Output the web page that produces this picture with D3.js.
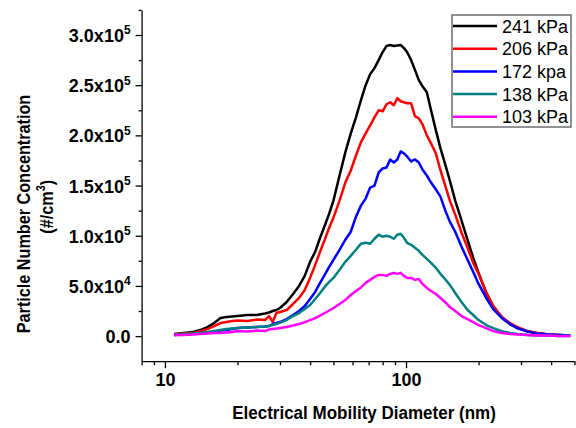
<!DOCTYPE html>
<html>
<head>
<meta charset="utf-8">
<script src="https://cdn.jsdelivr.net/npm/d3@7"></script>
<style>
  body { margin: 0; background: #fff; }
  svg { display: block; font-family: "Liberation Sans", Arial, sans-serif; }
</style>
</head>
<body>
<svg id="chart" width="576" height="428"></svg>
<script>
// electrical mobility diameter (nm)
const diameters = [10.9,12,13,14,15,16,17,18,19,20, 22,24,26,27,28,29,30, 32,34,36,38,40,
    42,44,46,48,50, 53,56,59,62,65, 68,71,74,77,80, 83,86,89,92,95, 98,101,105,109,113,
    117,122,127,133,139, 145,152,160,170,180, 190,200,215,230,250, 270,290,320,350,390, 430,480];

// particle number concentration, in thousands of #/cm3
const p241 = [2,3,4,6,9,13,18,19,19.5,20, 21,21,22.5,23.5,25,26,28, 34,42,50,60,74,
    84,98,110,122,135, 160,183,202,218,235, 250,261,267,275,283, 289,290,289,289.5,290,
    287,283,275,265,255, 249,243,225,205,187, 172,155,135,115,96, 78,63,43,30,18, 12,8,4.5,3,1.5, 1,0.5];
const p206 = [1.5,2.5,3,5,7,10,13,14,15,15.5, 15,16.5,16,20,14,23,24, 26,32,38,46,58,
    71,84,96,108,118, 135,153,165,180,193, 202,210,218,225,224, 231,233,230,237,234,
    233,232,232,219,217, 211,200,192,182,165, 151,135,121,103,88, 73,62,44,30,19, 13,9,5,3,1.5, 1,0.5];
const p172 = [1,1.5,2,3,3.5,4,5.5,6,7,8, 8.5,9,9.5,10,12,13,14, 17,21,25,30,37,
    44,53,61,69,76, 86,96,104,119,130, 137,148,150,163,167, 168,176,173,176,184,
    182,179,174,176,173, 166,160,153,146,139, 126,114,104,89,76, 64,52,38,27,18, 12,8,4.5,2.5,1.5, 1,0.5];
const p138 = [1,2,2.5,3,4,5,6,7,7.5,8, 8.5,9,9.5,10,11,12,13.5, 16,20,23,27,31,
    37,43,49,54,58, 66,74,80,86,92, 93,92,97,101,99, 100,99,97,101,102,
    98,93,91,88,85, 81,77,73,68,62, 57,51,43,34,26, 21,16,11,8,5, 3,2,1,0.5,0.5, 0,0];
const p103 = [1,1,1.5,2,2.5,3,3,3.5,4,5, 4.5,5.5,5,6.5,7,7.5,8, 9,10.5,12,14,16,
    18,20.5,23,25.5,28, 32,36,41,45,48.5, 53,56,59,61,61, 60,62,63,62,63,
    60,58,58,56,57, 52,48,45,42,38, 34,29,25,20,17, 14,11,8,5,3, 2,1.5,1,0.5,0.5, 0,0];

const seriesNames = ["241 kPa", "206 kPa", "172 kpa", "138 kPa", "103 kPa"];
const seriesValues = [p241, p206, p172, p138, p103];
const seriesColors = ["#000000", "#ff0000", "#0000ff", "#008080", "#ff00ff"];

const yMajor = [0, 50000, 100000, 150000, 200000, 250000, 300000];
const yMinor = [25000, 75000, 125000, 175000, 225000, 275000, 325000];
const xMajor = [10, 100];
const xMinor = [8, 9, 20, 30, 40, 50, 60, 70, 80, 90, 200, 300, 400, 500];

const svg = d3.select("#chart");
svg.append("rect").attr("width", 576).attr("height", 428).attr("fill", "#fff");

const x = d3.scaleLog().domain([8, 500]).range([141.6, 574.5]);
const y = d3.scaleLinear().domain([-25000, 325000]).range([361.2, 9.9]);

// minor ticks
svg.append("g")
    .attr("transform", "translate(0," + y(-25000) + ")")
    .call(d3.axisBottom(x).tickValues(xMinor).tickSize(4).tickSizeOuter(0).tickFormat(""))
    .call(g => g.select(".domain").remove());
svg.append("g")
    .attr("transform", "translate(" + x(8) + ",0)")
    .call(d3.axisLeft(y).tickValues(yMinor).tickSize(3).tickSizeOuter(0).tickFormat(""))
    .call(g => g.select(".domain").remove());

// x axis
const xAxis = svg.append("g")
    .attr("transform", "translate(0," + y(-25000) + ")")
    .call(d3.axisBottom(x).tickValues(xMajor).tickSize(7).tickSizeOuter(0).tickFormat(d3.format("d")));
xAxis.selectAll("text")
    .attr("font-size", 18).attr("font-weight", "bold").attr("font-family", "Liberation Sans, Arial")
    .attr("fill", "#000").attr("y", 12);

// y axis
const yAxis = svg.append("g")
    .attr("transform", "translate(" + x(8) + ",0)")
    .call(d3.axisLeft(y).tickValues(yMajor).tickSize(6).tickSizeOuter(0).tickFormat(""));
yAxis.selectAll(".tick").each(function(v) {
    const t = d3.select(this).append("text")
        .attr("x", -11).attr("y", 6.5)
        .attr("text-anchor", "end")
        .attr("fill", "#000")
        .attr("font-size", 18).attr("font-weight", "bold").attr("font-family", "Liberation Sans, Arial");
    if (v === 0) {
        t.text("0.0");
    } else {
        const e = Math.floor(Math.log10(v));
        t.append("tspan").text((v / Math.pow(10, e)).toFixed(1) + "x10");
        t.append("tspan").attr("font-size", 12).attr("dy", -7.5).text(e);
    }
});

svg.selectAll(".domain, .tick line").attr("stroke", "#000").attr("stroke-width", 1.3);

// axis titles (glyphs a bit taller than wide, as in the original export)
svg.append("text")
    .attr("transform", "translate(364,419) scale(0.93,1)")
    .attr("text-anchor", "middle")
    .attr("font-size", 18.3).attr("font-weight", "bold")
    .text("Electrical Mobility Diameter (nm)");

const yTitle = svg.append("g").attr("transform", "translate(30,214) rotate(-90) scale(0.9,1)");
yTitle.append("text")
    .attr("text-anchor", "middle")
    .attr("font-size", 18).attr("font-weight", "bold")
    .text("Particle Number Concentration");
const unit = yTitle.append("text")
    .attr("x", 8).attr("y", 23)
    .attr("text-anchor", "middle")
    .attr("font-size", 18).attr("font-weight", "bold");
unit.append("tspan").text("(#/cm");
unit.append("tspan").attr("font-size", 12).attr("dy", -7.5).text("3");
unit.append("tspan").attr("dy", 7.5).text(")");

// lines
const line = d3.line()
    .x((d, i) => x(diameters[i]))
    .y(d => y(d * 1000));

svg.append("g").selectAll("path")
    .data(seriesValues)
    .join("path")
    .attr("d", line)
    .attr("fill", "none")
    .attr("stroke", (d, i) => seriesColors[i])
    .attr("stroke-width", 2.5)
    .attr("stroke-linejoin", "round");

// legend
const legend = svg.append("g").attr("transform", "translate(452,15)");
legend.append("rect")
    .attr("x", 0).attr("y", 0).attr("width", 119).attr("height", 112)
    .attr("fill", "#fff").attr("stroke", "#6e6e6e").attr("stroke-width", 1.5);
const rows = legend.selectAll("g.row")
    .data(seriesNames)
    .join("g")
    .attr("class", "row")
    .attr("transform", (d, i) => "translate(0," + (11 + i * 22.7) + ")");
rows.append("line")
    .attr("x1", 1).attr("x2", 45)
    .attr("stroke", (d, i) => seriesColors[i])
    .attr("stroke-width", 2.5);
rows.append("text")
    .attr("x", 50).attr("y", 6.5)
    .attr("font-size", 18)
    .text(d => d);
</script>
</body>
</html>
